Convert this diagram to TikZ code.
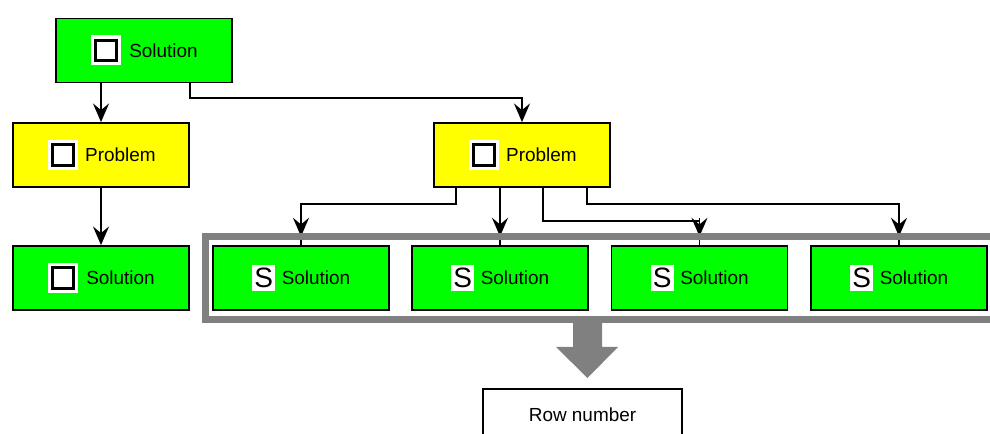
\documentclass[tikz,border=0pt]{standalone}
\usepackage{fontspec}
\setmainfont{Liberation Sans}
\usetikzlibrary{arrows.meta}
\definecolor{boxgreen}{HTML}{00FF00}
\definecolor{boxyellow}{HTML}{FFFF00}
\definecolor{framegray}{HTML}{808080}
\begin{document}
\begin{tikzpicture}[x=0.75pt,y=-0.75pt,
  every node/.style={font=\fontsize{14.2pt}{17pt}\selectfont},
  gbox/.style={draw=black, line width=1.3pt, fill=boxgreen, minimum width=132pt, minimum height=48pt, inner sep=0pt},
  ybox/.style={gbox, fill=boxyellow},
  chk/.style={rectangle, fill=white, minimum size=22.5pt, inner sep=0pt,
    path picture={\draw[line width=2.25pt] ([shift={(3.4pt,3.4pt)}]path picture bounding box.south west) rectangle ([shift={(-3.4pt,-3.4pt)}]path picture bounding box.north east);}},
  sicon/.style={rectangle, fill=white, minimum width=17pt, minimum height=19pt, inner sep=0pt, font=\fontsize{21pt}{21pt}\selectfont},
  conn/.style={line width=1.4pt, -{Stealth[length=14pt,width=12pt,inset=5pt]}},
  plain/.style={line width=1.4pt},
]
\useasboundingbox (0,0) rectangle (990,434);
\clip (0,0) rectangle (990,434);

% boxes
\node[gbox] (sol0) at (144,50.5) {\hspace*{29.2pt}Solution};
\node[ybox] (prob1) at (101,155) {\hspace*{29.2pt}Problem};
\node[gbox] (sol1) at (101,278) {\hspace*{29.2pt}Solution};
\node[ybox] (prob2) at (522,155) {\hspace*{29.2pt}Problem};
\node[gbox] (s1) at (301,278) {\hspace*{22.5pt}Solution};
\node[gbox] (s2) at (500,278) {\hspace*{22.5pt}Solution};
\node[gbox] (s3) at (699.5,278) {\hspace*{22.5pt}Solution};
\node[gbox] (s4) at (899,278) {\hspace*{22.5pt}Solution};

% icons
\node[chk] (c0) at ([xshift=-28.6pt]sol0.center) {};
\node[chk] (c1) at ([xshift=-28.6pt]prob1.center) {};
\node[chk] (c2) at ([xshift=-28.6pt]sol1.center) {};
\node[chk] (c3) at ([xshift=-28.6pt]prob2.center) {};
\node[sicon] (i1) at ([xshift=-28pt]s1.center) {S};
\node[sicon] (i2) at ([xshift=-28pt]s2.center) {S};
\node[sicon] (i3) at ([xshift=-28pt]s3.center) {S};
\node[sicon] (i4) at ([xshift=-28pt]s4.center) {S};

% connectors
\coordinate (j0) at (190,98);
\draw[conn] (sol0.south -| prob1.north) -- (prob1.north);
\draw[conn] (j0 |- sol0.south) -- (j0) -| (prob2.north);
\draw[conn] (prob1.south) -- (sol1.north);

\coordinate (a1) at (456,204);
\coordinate (a3) at (543,221);
\coordinate (a4) at (587,204);
\draw[plain] (a1 |- prob2.south) -- (a1) -| (s1.north);
\draw[plain] (prob2.south -| s2.north) -- (s2.north);
\draw[plain] (a3 |- prob2.south) -- (a3) -| (s3.north);
\draw[plain] (a4 |- prob2.south) -- (a4) -| (s4.north);
\foreach \n in {s1,s2,s3,s4}{
  \draw[conn] ([yshift=20pt]\n.north) -- ([yshift=6.5pt]\n.north);
}

% frame
\draw[framegray, line width=5.25pt] (205.5,236.5) rectangle (994,319.5);

% big gray arrow
\fill[framegray] (573,322) -- (602,322) -- (602,347) -- (618,347) -- (587.5,378) -- (556,347) -- (573,347) -- cycle;

% row number
\node[draw=black, line width=1.1pt, fill=white, minimum width=149pt, minimum height=39pt, inner sep=0pt] (row) at (582.5,415) {Row number};
\end{tikzpicture}
\end{document}
